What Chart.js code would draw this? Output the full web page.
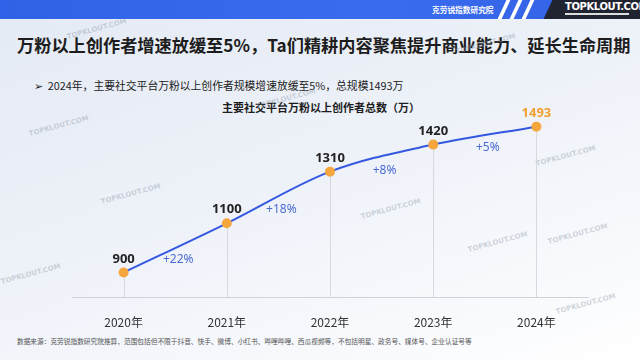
<!DOCTYPE html>
<html>
<head>
<meta charset="utf-8">
<script src="https://cdn.jsdelivr.net/npm/chart.js@4"></script>
<style>
  html, body { margin: 0; padding: 0; }
  body {
    width: 640px; height: 360px; overflow: hidden; position: relative;
    font-family: "Noto Sans CJK SC", "Noto Sans", sans-serif;
    background: linear-gradient(160deg, #e4eaf4 0%, #edf1f8 45%, #f6f8fc 75%, #ffffff 100%);
  }
  .band {
    position: absolute; left: 0; top: 0; width: 640px; height: 19px; overflow: hidden;
    background: linear-gradient(90deg, #2f62e6 0%, #3a6cf0 60%, #3160e4 100%);
  }
  .band .org { position: absolute; left: 432px; top: 4px; color: #fff; font-size: 7.7px; font-weight: bold; }
  .band .slash { position: absolute; top: 0; width: 4px; height: 19px; background: #fff; transform: skewX(-25deg); }
  .band .dark {
    position: absolute; left: 548px; top: 0; width: 100px; height: 19px; background: #1f2430;
    transform: skewX(-25deg);
  }
  .band .brand { position: absolute; left: 565px; top: 1px; color: #fff; font-size: 10px; font-weight: bold; font-family: "DejaVu Sans", sans-serif; letter-spacing: -0.4px; }
  .band .brand2 { position: absolute; left: 565px; top: 13px; width: 64px; height: 2px; background: #ddd; }
  .title { position: absolute; left: 17px; top: 32px; font-size: 17.2px; font-weight: bold; color: #1d1d1d; white-space: nowrap; }
  .bullet { position: absolute; left: 34px; top: 77px; font-size: 10.8px; color: #222; white-space: nowrap; }
  .ctitle { position: absolute; left: 222px; top: 99px; font-size: 11px; font-weight: bold; color: #1d1d1d; white-space: nowrap; }
  .note { position: absolute; left: 17px; top: 336px; font-size: 6.7px; color: #555; white-space: nowrap; }
  .wm { position: absolute; font-size: 7px; color: rgba(150,160,175,0.45); transform: rotate(-15deg); font-family: "DejaVu Sans", sans-serif; font-weight: bold; }
  #wrap { position: absolute; left: 0; top: 0; width: 640px; height: 360px; }
</style>
</head>
<body>
<div class="band">
  <div class="org">克劳锐指数研究院</div>
  <div class="slash" style="left:502px"></div>
  <div class="slash" style="left:514px"></div>
  <div class="slash" style="left:526px"></div>
  <div class="dark"></div>
  <div class="brand">TOPKLOUT.COM</div>
  <div class="brand2"></div>
</div>
<div class="title">万粉以上创作者增速放缓至5%，Ta们精耕内容聚焦提升商业能力、延长生命周期</div>
<div class="bullet">➢&nbsp; 2024年，主要社交平台万粉以上创作者规模增速放缓至5%，总规模1493万</div>
<div class="ctitle">主要社交平台万粉以上创作者总数（万）</div>
<div class="note">数据来源：克劳锐指数研究院推算，范围包括但不限于抖音、快手、微博、小红书、哔哩哔哩、西瓜视频等，不包括明星、政务号、媒体号、企业认证号等</div>
<div class="wm" style="left:66px;top:25px">TOPKLOUT.COM</div>
<div class="wm" style="left:455px;top:40px">TOPKLOUT.COM</div>
<div class="wm" style="left:28px;top:122px">TOPKLOUT.COM</div>
<div class="wm" style="left:100px;top:190px">TOPKLOUT.COM</div>
<div class="wm" style="left:255px;top:95px">TOPKLOUT.COM</div>
<div class="wm" style="left:360px;top:205px">TOPKLOUT.COM</div>
<div class="wm" style="left:535px;top:152px">TOPKLOUT.COM</div>
<div class="wm" style="left:547px;top:230px">TOPKLOUT.COM</div>
<div class="wm" style="left:0px;top:270px">TOPKLOUT.COM</div>
<div class="wm" style="left:467px;top:238px">TOPKLOUT.COM</div>
<div class="wm" style="left:555px;top:300px">TOPKLOUT.COM</div>
<div id="wrap"><canvas id="chart" width="640" height="360"></canvas></div>

<script>
// data
const years = ['2020年', '2021年', '2022年', '2023年', '2024年'];
const creators = [900, 1100, 1310, 1420, 1493];
const growth = ['', '+22%', '+18%', '+8%', '+5%'];

// drop lines + value labels
const labelPlugin = {
    id: 'labels',
    beforeDatasetsDraw: (chart) => {
        const ctx = chart.ctx;
        const pts = chart.getDatasetMeta(0).data;
        ctx.save();
        ctx.strokeStyle = '#d6d9de';
        ctx.lineWidth = 1;
        pts.forEach(p => {
            ctx.beginPath();
            ctx.moveTo(Math.round(p.x) + 0.5, p.y);
            ctx.lineTo(Math.round(p.x) + 0.5, chart.chartArea.bottom);
            ctx.stroke();
        });
        ctx.restore();
    },
    afterDatasetsDraw: (chart) => {
        const ctx = chart.ctx;
        const pts = chart.getDatasetMeta(0).data;
        ctx.save();
        ctx.textAlign = 'center';
        ctx.textBaseline = 'alphabetic';
        ctx.font = 'bold 13px "Noto Sans", "DejaVu Sans", sans-serif';
        for (let i = 0; i < pts.length; i++) {
            ctx.fillStyle = i == pts.length - 1 ? '#f0a030' : '#222';
            ctx.fillText(creators[i], pts[i].x, pts[i].y - 10);
        }
        ctx.font = '12px "Noto Sans", "DejaVu Sans", sans-serif';
        ctx.fillStyle = '#4a6cd4';
        ctx.textBaseline = 'middle';
        for (let i = 1; i < pts.length; i++) {
            const mx = (pts[i - 1].x + pts[i].x) / 2;
            const my = (pts[i - 1].y + pts[i].y) / 2;
            ctx.fillText(growth[i], mx + 3, my + 12);
        }
        ctx.restore();
    }
};

const chart = new Chart(document.getElementById('chart'), {
    type: 'line',
    data: {
        labels: years,
        datasets: [{
            data: creators,
            borderColor: '#3558e0',
            borderWidth: 2,
            tension: 0.4,
            cubicInterpolationMode: 'monotone',
            pointRadius: 4,
            pointBackgroundColor: '#f5a63c',
            pointBorderColor: '#f5a63c'
        }]
    },
    options: {
        responsive: false,
        animation: false,
        layout: { padding: { left: 72, right: 52, top: 120, bottom: 20.5 } },
        plugins: { legend: { display: false }, tooltip: { enabled: false } },
        scales: {
            x: {
                offset: true,
                grid: { display: false },
                border: { display: true, color: '#cfd3d9', width: 1 },
                ticks: {
                    color: '#333',
                    font: { size: 12, family: '"Noto Sans CJK SC", sans-serif' },
                    padding: 10
                }
            },
            y: {
                display: false,
                min: 800,
                max: 1520
            }
        }
    },
    plugins: [labelPlugin]
});
</script>
</body>
</html>
